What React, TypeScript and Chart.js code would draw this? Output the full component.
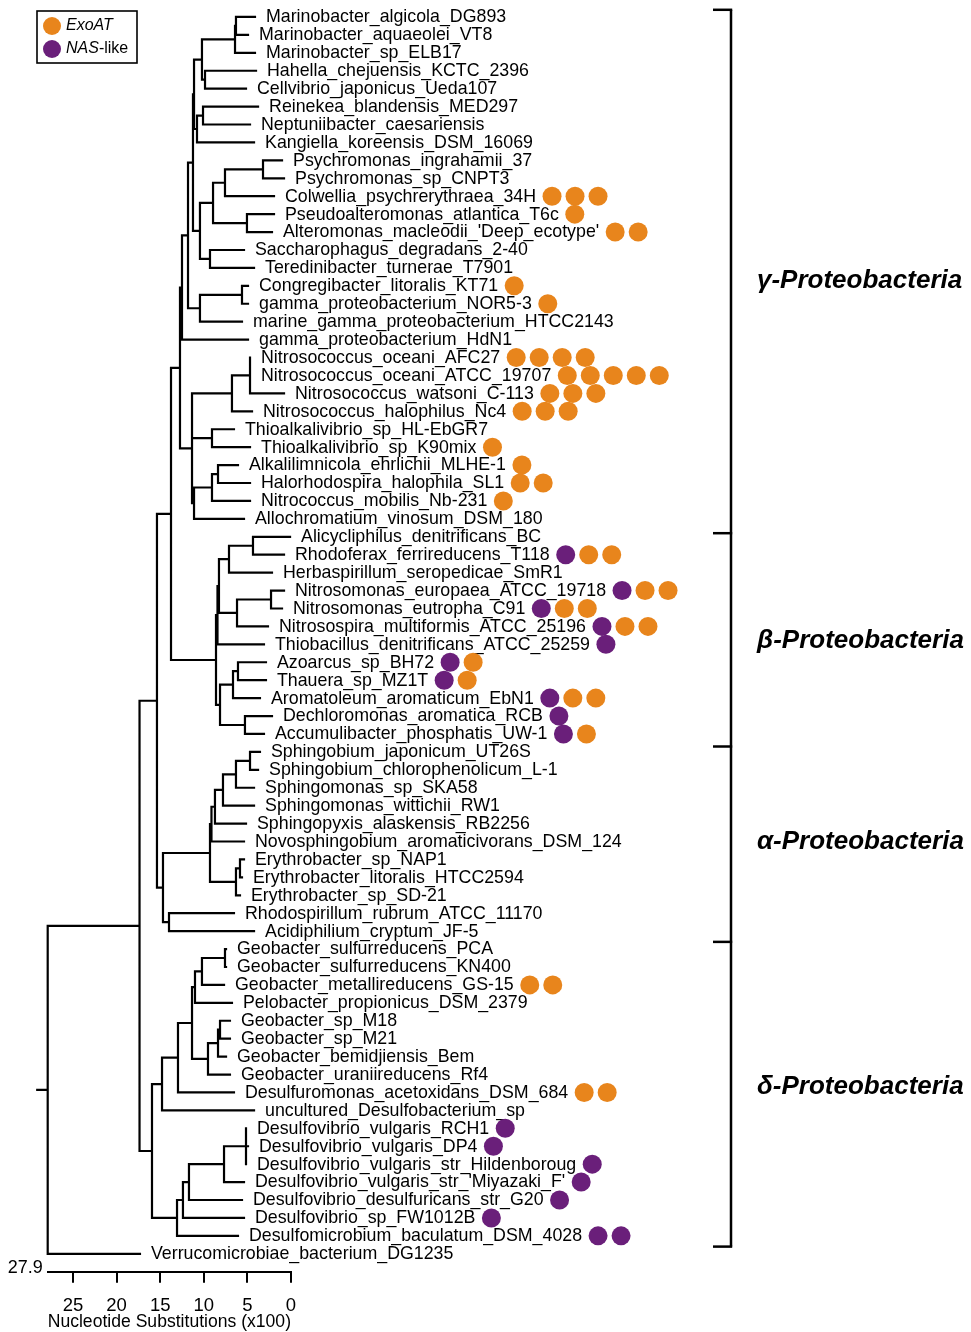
import React, { useEffect, useRef } from 'react';
import { Chart, registerables } from 'chart.js';

Chart.register(...registerables);

const FONT = '"Liberation Sans", Arial, Helvetica, sans-serif';
Chart.defaults.font.family = FONT;

// ---------- data ----------
const leafNames = [
  'Marinobacter_algicola_DG893', 'Marinobacter_aquaeolei_VT8', 'Marinobacter_sp_ELB17',
  'Hahella_chejuensis_KCTC_2396', 'Cellvibrio_japonicus_Ueda107', 'Reinekea_blandensis_MED297',
  'Neptuniibacter_caesariensis', 'Kangiella_koreensis_DSM_16069', 'Psychromonas_ingrahamii_37',
  'Psychromonas_sp_CNPT3', 'Colwellia_psychrerythraea_34H', 'Pseudoalteromonas_atlantica_T6c',
  "Alteromonas_macleodii_'Deep_ecotype'", 'Saccharophagus_degradans_2-40', 'Teredinibacter_turnerae_T7901',
  'Congregibacter_litoralis_KT71', 'gamma_proteobacterium_NOR5-3', 'marine_gamma_proteobacterium_HTCC2143',
  'gamma_proteobacterium_HdN1', 'Nitrosococcus_oceani_AFC27', 'Nitrosococcus_oceani_ATCC_19707',
  'Nitrosococcus_watsoni_C-113', 'Nitrosococcus_halophilus_Nc4', 'Thioalkalivibrio_sp_HL-EbGR7',
  'Thioalkalivibrio_sp_K90mix', 'Alkalilimnicola_ehrlichii_MLHE-1', 'Halorhodospira_halophila_SL1',
  'Nitrococcus_mobilis_Nb-231', 'Allochromatium_vinosum_DSM_180', 'Alicycliphilus_denitrificans_BC',
  'Rhodoferax_ferrireducens_T118', 'Herbaspirillum_seropedicae_SmR1', 'Nitrosomonas_europaea_ATCC_19718',
  'Nitrosomonas_eutropha_C91', 'Nitrosospira_multiformis_ATCC_25196', 'Thiobacillus_denitrificans_ATCC_25259',
  'Azoarcus_sp_BH72', 'Thauera_sp_MZ1T', 'Aromatoleum_aromaticum_EbN1',
  'Dechloromonas_aromatica_RCB', 'Accumulibacter_phosphatis_UW-1', 'Sphingobium_japonicum_UT26S',
  'Sphingobium_chlorophenolicum_L-1', 'Sphingomonas_sp_SKA58', 'Sphingomonas_wittichii_RW1',
  'Sphingopyxis_alaskensis_RB2256', 'Novosphingobium_aromaticivorans_DSM_124', 'Erythrobacter_sp_NAP1',
  'Erythrobacter_litoralis_HTCC2594', 'Erythrobacter_sp_SD-21', 'Rhodospirillum_rubrum_ATCC_11170',
  'Acidiphilium_cryptum_JF-5', 'Geobacter_sulfurreducens_PCA', 'Geobacter_sulfurreducens_KN400',
  'Geobacter_metallireducens_GS-15', 'Pelobacter_propionicus_DSM_2379', 'Geobacter_sp_M18',
  'Geobacter_sp_M21', 'Geobacter_bemidjiensis_Bem', 'Geobacter_uraniireducens_Rf4',
  'Desulfuromonas_acetoxidans_DSM_684', 'uncultured_Desulfobacterium_sp', 'Desulfovibrio_vulgaris_RCH1',
  'Desulfovibrio_vulgaris_DP4', 'Desulfovibrio_vulgaris_str_Hildenboroug', "Desulfovibrio_vulgaris_str_'Miyazaki_F'",
  'Desulfovibrio_desulfuricans_str_G20', 'Desulfovibrio_sp_FW1012B', 'Desulfomicrobium_baculatum_DSM_4028',
  'Verrucomicrobiae_bacterium_DG1235',
];

// distance of each tip from the 0 end of the scale (x100 substitutions)
const leafTips = [
  4.13, 4.93, 4.13, 4.01, 5.16, 3.78, 4.70, 4.24, 1.03, 0.80,
  1.95, 1.95, 2.18, 5.39, 4.24, 4.93, 4.93, 5.62, 4.93, 4.70,
  4.70, 0.80, 4.47, 6.54, 4.70, 6.08, 4.70, 4.70, 5.39, 0.11,
  0.80, 2.18, 0.80, 1.03, 2.64, 3.10, 2.87, 2.87, 3.56, 2.18,
  3.10, 3.56, 3.78, 4.24, 4.24, 5.16, 5.39, 5.39, 5.62, 5.85,
  6.54, 4.24, 7.45, 7.45, 7.68, 6.77, 7.00, 7.00, 7.45, 7.00,
  6.54, 4.24, 5.16, 4.93, 5.16, 5.39, 5.62, 5.39, 6.08, 17.32,
];

const exoATCounts = [
  0, 0, 0, 0, 0, 0, 0, 0, 0, 0,
  3, 1, 2, 0, 0, 1, 1, 0, 0, 4,
  5, 3, 3, 0, 1, 1, 2, 1, 0, 0,
  2, 0, 2, 2, 2, 0, 1, 1, 2, 0,
  1, 0, 0, 0, 0, 0, 0, 0, 0, 0,
  0, 0, 0, 0, 2, 0, 0, 0, 0, 0,
  2, 0, 0, 0, 0, 0, 0, 0, 0, 0,
];

const nasLikeCounts = [
  0, 0, 0, 0, 0, 0, 0, 0, 0, 0,
  0, 0, 0, 0, 0, 0, 0, 0, 0, 0,
  0, 0, 0, 0, 0, 0, 0, 0, 0, 0,
  1, 0, 1, 1, 1, 1, 1, 1, 1, 1,
  1, 0, 0, 0, 0, 0, 0, 0, 0, 0,
  0, 0, 0, 0, 0, 0, 0, 0, 0, 0,
  0, 0, 1, 1, 1, 1, 1, 1, 2, 0,
];

const nodeIds = [
  'mari12', 'mari', 'hahCel', 'gD', 'reiNep', 'gF1', 'gF', 'psy', 'gH2', 'psAlt',
  'gH3', 'sacTer', 'gJ', 'gN194', 'cong', 'gK', 'gL', 'gM', 'nitroc', 'gP',
  'thioalk', 'alkHal', 'gT', 'gOa', 'gO', 'gamma', 'aliRho', 'bV', 'nmonas', 'bX',
  'b219', 'b1', 'azTh', 'bAA', 'bAB', 'bZ', 'beta', 'gb', 'sphb', 'aAD',
  'aAE', 'aAF', 'aAI', 'ery12', 'aAG', 'aAJ', 'aAK', 'alpha', 'gba', 'gsul',
  'dBC', 'dBD', 'm1821', 'dBF', 'dBG', 'dBE', 'dBH', 'dBA', 'dv', 'dCA',
  'dCB', 'dCC', 'dCD', 'delta', 'proteo', 'root',
];

const nodeDepths = [
  6.31, 6.42, 9.86, 10.21, 10.09, 10.78, 11.12, 3.21, 7.57, 5.05,
  8.94, 9.29, 10.44, 11.24, 5.62, 10.44, 11.81, 12.50, 4.70, 6.77,
  9.06, 8.37, 9.06, 11.12, 11.35, 12.73, 4.36, 7.11, 2.29, 6.19,
  8.26, 8.43, 6.08, 6.65, 5.28, 8.14, 8.60, 13.76, 4.70, 6.31,
  7.80, 8.72, 9.12, 5.85, 6.31, 9.29, 13.99, 14.68, 15.37, 7.57,
  10.21, 11.01, 8.14, 8.37, 9.52, 11.35, 12.96, 14.79, 5.16, 7.68,
  11.70, 12.39, 13.07, 15.94, 17.37, 27.9,
];

type Child = number | string;
const nodeChildren: Child[][] = [
  [0, 1], ['mari12', 2], [3, 4], ['mari', 'hahCel'], [5, 6], ['reiNep', 7], ['gD', 'gF1'], [8, 9], ['psy', 10], [11, 12],
  ['gH2', 'psAlt'], [13, 14], ['gH3', 'sacTer'], ['gF', 'gJ'], [15, 16], ['cong', 17], ['gN194', 'gK'], ['gL', 18], [19, 20, 21], ['nitroc', 22],
  [23, 24], [25, 26], ['alkHal', 27], ['gT', 28], ['gP', 'thioalk', 'gOa'], ['gM', 'gO'], [29, 30], ['aliRho', 31], [32, 33], ['nmonas', 34],
  ['bV', 'bX'], ['b219', 35], [36, 37], ['azTh', 38], [39, 40], ['bAA', 'bAB'], ['b1', 'bZ'], ['gamma', 'beta'], [41, 42], ['sphb', 43],
  ['aAD', 44], ['aAE', 45], ['aAF', 46], [47, 48], ['ery12', 49], ['aAI', 'aAG'], [50, 51], ['aAJ', 'aAK'], ['gb', 'alpha'], [52, 53],
  ['gsul', 54], ['dBC', 55], [56, 57], ['m1821', 58], ['dBF', 59], ['dBD', 'dBG'], ['dBE', 60], ['dBH', 61], [62, 63, 64], ['dv', 65],
  ['dCA', 66], ['dCB', 67], ['dCC', 68], ['dBA', 'dCD'], ['gba', 'delta'], ['proteo', 69],
];

const rootStubDepth = 29.1;
const axisMaxValue = 27.9;
const axisTitle = 'Nucleotide Substitutions (x100)';

const cladeNames = ['\u03b3-Proteobacteria', '\u03b2-Proteobacteria', '\u03b1-Proteobacteria', '\u03b4-Proteobacteria'];
const cladeBounds = [-0.4, 28.8, 40.7, 51.6, 68.6];
const cladeLabelRows = [14.7, 34.8, 46.0, 59.7];

const legendNames = ['ExoAT', 'NAS-like'];

const EXO_COLOR = '#e8851c';
const NAS_COLOR = '#6a1f7a';

// ---------- tree geometry (from data) ----------
function buildBranchPoints() {
  const idx: Record<string, number> = {};
  nodeIds.forEach((id, i) => { idx[id] = i; });
  const cache: Record<string, number> = {};
  const yOf = (c: Child): number => {
    if (typeof c === 'number') return c;
    if (cache[c] !== undefined) return cache[c];
    const ch = nodeChildren[idx[c]];
    const v = (yOf(ch[0]) + yOf(ch[ch.length - 1])) / 2;
    cache[c] = v;
    return v;
  };
  const xOf = (c: Child) => (typeof c === 'number' ? leafTips[c] : nodeDepths[idx[c]]);
  const pts: { x: number | null; y: number | null }[] = [];
  const gap = () => pts.push({ x: null, y: null });
  nodeIds.forEach((id, i) => {
    const ch = nodeChildren[i];
    const d = nodeDepths[i];
    pts.push({ x: d, y: yOf(ch[0]) }, { x: d, y: yOf(ch[ch.length - 1]) });
    gap();
    ch.forEach((c) => {
      const yc = yOf(c);
      pts.push({ x: d, y: yc }, { x: xOf(c), y: yc });
      gap();
    });
  });
  const ry = yOf('root');
  pts.push({ x: rootStubDepth, y: ry }, { x: nodeDepths[idx.root], y: ry });
  return pts;
}

const overlayPlugin = {
  id: 'treeOverlay',
  afterDraw(chart: any) {
    const { ctx, chartArea } = chart;
    const x = chart.scales.x;
    const y = chart.scales.y;
    ctx.save();

    // leaf labels + gene markers
    ctx.textBaseline = 'middle';
    ctx.textAlign = 'left';
    ctx.font = `17.8px ${FONT}`;
    leafNames.forEach((name, i) => {
      const px = x.getPixelForValue(leafTips[i]) + 11;
      const py = y.getPixelForValue(i);
      ctx.fillStyle = '#000';
      ctx.fillText(name, px, py + 0.5);
      let cx = px + ctx.measureText(name).width + 16;
      const dots: string[] = [];
      for (let k = 0; k < nasLikeCounts[i]; k++) dots.push(NAS_COLOR);
      for (let k = 0; k < exoATCounts[i]; k++) dots.push(EXO_COLOR);
      dots.forEach((col) => {
        ctx.beginPath();
        ctx.arc(cx, py, 9.5, 0, Math.PI * 2);
        ctx.fillStyle = col;
        ctx.fill();
        cx += 23;
      });
    });

    // clade brackets
    const bx = 731;
    ctx.strokeStyle = '#000';
    ctx.lineWidth = 2.5;
    ctx.lineCap = 'butt';
    ctx.beginPath();
    ctx.moveTo(bx, y.getPixelForValue(cladeBounds[0]));
    ctx.lineTo(bx, y.getPixelForValue(cladeBounds[cladeBounds.length - 1]));
    ctx.stroke();
    cladeBounds.forEach((b) => {
      const py = y.getPixelForValue(b);
      ctx.beginPath();
      ctx.moveTo(713, py);
      ctx.lineTo(bx + 1.2, py);
      ctx.stroke();
    });
    ctx.fillStyle = '#000';
    ctx.font = `italic bold 26px ${FONT}`;
    cladeNames.forEach((n, i) => {
      ctx.fillText(n, 757, y.getPixelForValue(cladeLabelRows[i]));
    });

    // axis start label
    ctx.font = `18px ${FONT}`;
    ctx.textAlign = 'right';
    ctx.fillText(String(axisMaxValue), x.getPixelForValue(axisMaxValue) - 5, chartArea.bottom - 4);

    // legend
    ctx.lineWidth = 1.6;
    ctx.strokeRect(37, 11, 100, 52);
    const cols = [EXO_COLOR, NAS_COLOR];
    const ly = [26, 49];
    ctx.textAlign = 'left';
    legendNames.forEach((n, i) => {
      ctx.beginPath();
      ctx.arc(52, ly[i], 9, 0, Math.PI * 2);
      ctx.fillStyle = cols[i];
      ctx.fill();
      ctx.fillStyle = '#000';
      const dash = n.indexOf('-');
      const head = dash >= 0 ? n.slice(0, dash) : n;
      const tail = dash >= 0 ? n.slice(dash) : '';
      ctx.font = `italic 16px ${FONT}`;
      ctx.fillText(head, 66, ly[i]);
      const w = ctx.measureText(head).width;
      ctx.font = `16px ${FONT}`;
      ctx.fillText(tail, 66 + w, ly[i]);
    });

    ctx.restore();
  },
};

export default function App() {
  const ref = useRef<HTMLCanvasElement | null>(null);
  useEffect(() => {
    if (!ref.current) return;
    const chart = new Chart(ref.current, {
      type: 'scatter',
      data: {
        datasets: [
          {
            data: buildBranchPoints() as any,
            showLine: true,
            spanGaps: false,
            borderColor: '#000',
            borderWidth: 2.2,
            borderCapStyle: 'square',
            borderJoinStyle: 'miter',
            pointRadius: 0,
            pointHoverRadius: 0,
            tension: 0,
            clip: false as any,
          } as any,
        ],
      },
      options: {
        responsive: false,
        animation: false,
        events: [],
        layout: { padding: { left: 47.7, right: 680, top: 8, bottom: 0 } },
        plugins: { legend: { display: false }, tooltip: { enabled: false } },
        scales: {
          x: {
            type: 'linear',
            min: 0,
            max: axisMaxValue,
            reverse: true,
            ticks: { stepSize: 5, includeBounds: false, color: '#000', font: { size: 18.5 }, padding: 12, maxRotation: 0, autoSkip: false },
            grid: { drawOnChartArea: false, drawTicks: true, tickLength: 11, color: '#000', lineWidth: 2 },
            border: { display: true, color: '#000', width: 2 },
            title: { display: true, text: axisTitle, color: '#000', font: { size: 18.8 }, padding: { top: 0, bottom: -1 } },
            afterFit: (s: any) => { s.height = 60.3; },
          } as any,
          y: { type: 'linear', min: -0.5, max: 70, reverse: true, display: false },
        },
      },
      plugins: [overlayPlugin],
    });
    return () => chart.destroy();
  }, []);
  return (
    <div style={{ position: 'absolute', left: 0, top: 0, width: 971, height: 1332, background: '#fff' }}>
      <canvas ref={ref} width={971} height={1332} style={{ display: 'block' }} />
    </div>
  );
}
